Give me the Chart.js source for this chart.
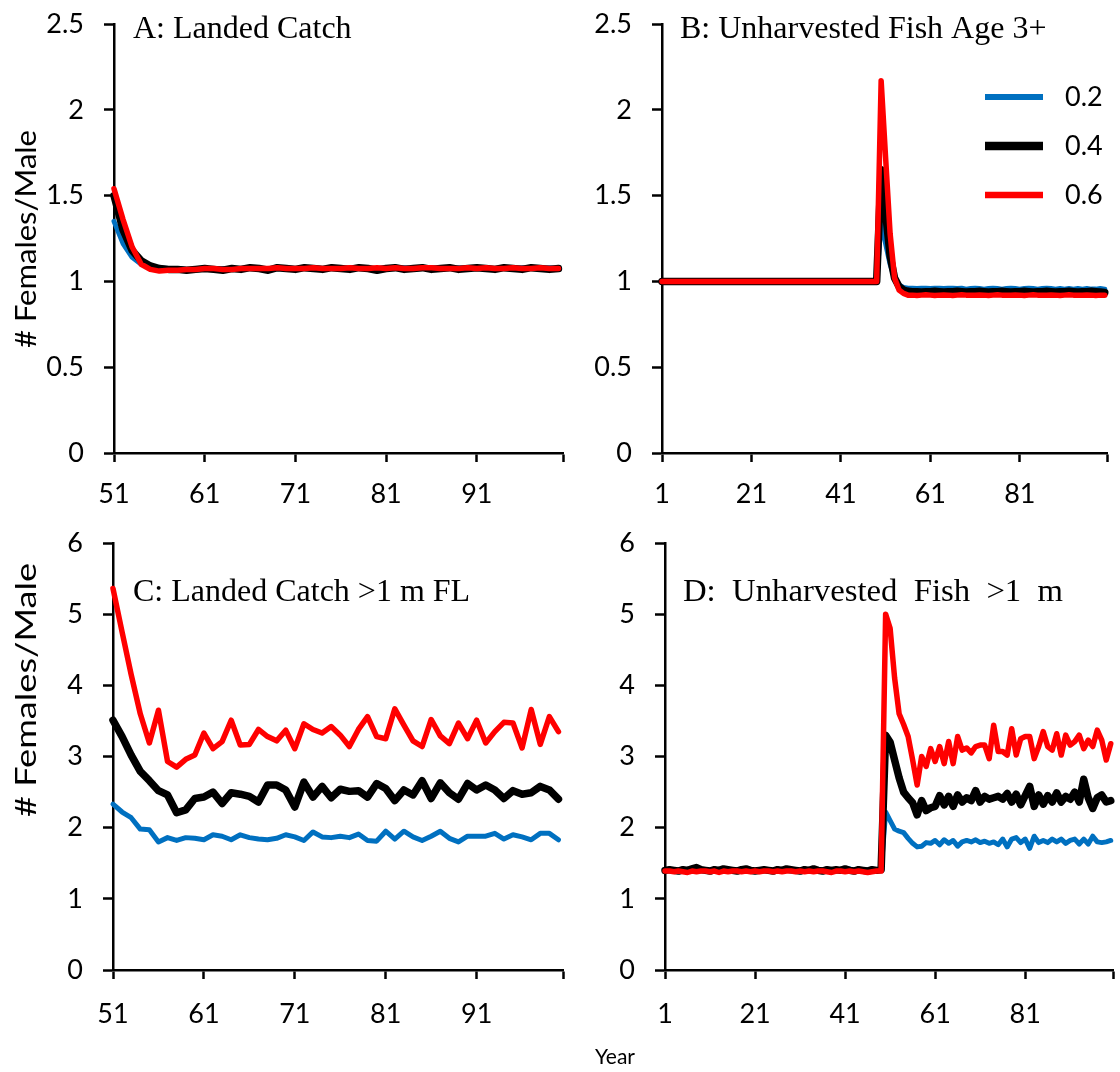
<!DOCTYPE html>
<html>
<head>
<meta charset="utf-8">
<script src="https://cdn.jsdelivr.net/npm/chart.js@4.4.1/dist/chart.umd.min.js"></script>
<style>
  html, body { margin: 0; padding: 0; background: #fff; }
  #wrap { position: relative; width: 1120px; height: 1072px; overflow: hidden; }
  canvas { position: absolute; }
  #yearLabel { position: absolute; left: 565px; top: 1043px; width: 100px; text-align: center;
               font: 21px Lato, sans-serif; line-height: 26px; color: #000; }
</style>
</head>
<body>
<div id="wrap">
  <canvas id="chartA" width="580" height="520" style="left:0;top:0"></canvas>
  <canvas id="chartB" width="540" height="520" style="left:580px;top:0"></canvas>
  <canvas id="chartC" width="580" height="552" style="left:0;top:520px"></canvas>
  <canvas id="chartD" width="540" height="552" style="left:580px;top:520px"></canvas>
  <div id="yearLabel">Year</div>
</div>
<script>
// series: harvest rate scenarios
const seriesLabels = ['0.2', '0.4', '0.6'];
const seriesColors = ['#0070C0', '#000000', '#FF0000'];

const xTicksLanded = [51, 61, 71, 81, 91];
const xTicksUnharvested = [1, 21, 41, 61, 81];
const yTicksSmall = [0, 0.5, 1, 1.5, 2, 2.5];
const yTicksBig = [0, 1, 2, 3, 4, 5, 6];

// A: landed catch, years 51-100
const landedBlue = [
  1.35, 1.22, 1.14, 1.10, 1.085, 1.08, 1.075, 1.075, 1.07, 1.07,
  1.075, 1.07, 1.075, 1.07, 1.075, 1.08, 1.075, 1.07, 1.075, 1.08,
  1.075, 1.075, 1.08, 1.075, 1.075, 1.08, 1.075, 1.08, 1.075, 1.075,
  1.08, 1.075, 1.08, 1.075, 1.075, 1.08, 1.075, 1.075, 1.08, 1.075,
  1.08, 1.075, 1.075, 1.08, 1.075, 1.08, 1.075, 1.075, 1.08, 1.075
];
const landedBlack = [
  1.50, 1.30, 1.18, 1.12, 1.09, 1.075, 1.07, 1.07, 1.065, 1.07,
  1.075, 1.07, 1.065, 1.075, 1.07, 1.08, 1.075, 1.065, 1.08, 1.075,
  1.07, 1.08, 1.075, 1.07, 1.08, 1.075, 1.07, 1.08, 1.075, 1.065,
  1.075, 1.08, 1.07, 1.075, 1.08, 1.07, 1.075, 1.08, 1.07, 1.075,
  1.08, 1.075, 1.07, 1.08, 1.075, 1.07, 1.08, 1.075, 1.07, 1.075
];
const landedRed = [
  1.54, 1.36, 1.20, 1.10, 1.07, 1.06, 1.065, 1.065, 1.07, 1.07,
  1.075, 1.075, 1.07, 1.07, 1.075, 1.075, 1.075, 1.075, 1.08, 1.075,
  1.075, 1.075, 1.08, 1.075, 1.075, 1.075, 1.08, 1.075, 1.075, 1.08,
  1.075, 1.08, 1.075, 1.075, 1.08, 1.08, 1.075, 1.075, 1.075, 1.08,
  1.075, 1.08, 1.075, 1.075, 1.08, 1.075, 1.075, 1.08, 1.075, 1.075
];

// B: unharvested fish age 3+, years 1-100
const unharvBlue = [
  1, 1, 1, 1, 1, 1, 1, 1, 1, 1,
  1, 1, 1, 1, 1, 1, 1, 1, 1, 1,
  1, 1, 1, 1, 1, 1, 1, 1, 1, 1,
  1, 1, 1, 1, 1, 1, 1, 1, 1, 1,
  1, 1, 1, 1, 1, 1, 1, 1, 1, 1.35,
  1.22, 1.10, 1.02, 0.98, 0.965, 0.96, 0.96, 0.958, 0.96, 0.96,
  0.958, 0.96, 0.96, 0.958, 0.96, 0.96, 0.958, 0.96, 0.955, 0.958,
  0.96, 0.958, 0.955, 0.958, 0.96, 0.958, 0.955, 0.958, 0.96, 0.958,
  0.955, 0.958, 0.96, 0.958, 0.955, 0.958, 0.96, 0.958, 0.955, 0.958,
  0.955, 0.958, 0.955, 0.958, 0.955, 0.958, 0.955, 0.955, 0.958, 0.955
];
const unharvBlack = [
  1, 1, 1, 1, 1, 1, 1, 1, 1, 1,
  1, 1, 1, 1, 1, 1, 1, 1, 1, 1,
  1, 1, 1, 1, 1, 1, 1, 1, 1, 1,
  1, 1, 1, 1, 1, 1, 1, 1, 1, 1,
  1, 1, 1, 1, 1, 1, 1, 1, 1, 1.65,
  1.40, 1.15, 1.02, 0.97, 0.95, 0.942, 0.94, 0.94, 0.938, 0.94,
  0.94, 0.942, 0.94, 0.938, 0.94, 0.94, 0.942, 0.94, 0.938, 0.94,
  0.94, 0.942, 0.94, 0.938, 0.94, 0.94, 0.942, 0.94, 0.938, 0.94,
  0.94, 0.942, 0.94, 0.938, 0.94, 0.94, 0.942, 0.94, 0.938, 0.94,
  0.94, 0.942, 0.94, 0.938, 0.94, 0.94, 0.942, 0.94, 0.938, 0.935
];
const unharvRed = [
  1, 1, 1, 1, 1, 1, 1, 1, 1, 1,
  1, 1, 1, 1, 1, 1, 1, 1, 1, 1,
  1, 1, 1, 1, 1, 1, 1, 1, 1, 1,
  1, 1, 1, 1, 1, 1, 1, 1, 1, 1,
  1, 1, 1, 1, 1, 1, 1, 1, 1, 2.17,
  1.72, 1.28, 1.02, 0.95, 0.93, 0.92, 0.92, 0.918, 0.92, 0.922,
  0.92, 0.918, 0.92, 0.921, 0.92, 0.918, 0.92, 0.922, 0.92, 0.919,
  0.92, 0.921, 0.92, 0.918, 0.92, 0.922, 0.92, 0.919, 0.92, 0.921,
  0.92, 0.918, 0.92, 0.922, 0.92, 0.919, 0.92, 0.921, 0.92, 0.918,
  0.92, 0.922, 0.92, 0.919, 0.92, 0.921, 0.92, 0.918, 0.92, 0.92
];

// C: landed catch >1 m FL, years 51-100
const bigLandedBlue = [
  2.33, 2.22, 2.14, 1.98, 1.97, 1.80, 1.86, 1.82, 1.86, 1.85,
  1.83, 1.90, 1.88, 1.83, 1.90, 1.86, 1.84, 1.83, 1.85, 1.90,
  1.87, 1.82, 1.94, 1.87, 1.86, 1.88, 1.86, 1.91, 1.82, 1.81,
  1.95, 1.84, 1.95, 1.87, 1.82, 1.88, 1.95, 1.85, 1.80, 1.88,
  1.88, 1.88, 1.92, 1.84, 1.90, 1.87, 1.83, 1.92, 1.92, 1.83
];
const bigLandedBlack = [
  3.51, 3.28, 3.02, 2.79, 2.66, 2.52, 2.46, 2.21, 2.25, 2.41,
  2.43, 2.50, 2.34, 2.49, 2.47, 2.44, 2.36, 2.60, 2.60, 2.53,
  2.29, 2.64, 2.43, 2.58, 2.42, 2.54, 2.51, 2.52, 2.43, 2.62,
  2.55, 2.38, 2.53, 2.46, 2.66, 2.41, 2.63, 2.49, 2.40, 2.62,
  2.53, 2.60, 2.53, 2.41, 2.52, 2.47, 2.49, 2.58, 2.53, 2.40
];
const bigLandedRed = [
  5.36, 4.75, 4.15, 3.60, 3.19, 3.65, 2.93, 2.85, 2.96, 3.02,
  3.33, 3.11, 3.21, 3.51, 3.16, 3.17, 3.38, 3.28, 3.22, 3.37,
  3.11, 3.46, 3.38, 3.33, 3.42, 3.30, 3.14, 3.38, 3.56, 3.28,
  3.25, 3.67, 3.44, 3.22, 3.14, 3.52, 3.29, 3.18, 3.47, 3.25,
  3.51, 3.19, 3.35, 3.48, 3.47, 3.12, 3.66, 3.17, 3.56, 3.35
];

// D: unharvested fish >1 m, years 1-100
const bigUnharvBlue = [
  1.40, 1.40, 1.39, 1.40, 1.40, 1.39, 1.40, 1.40, 1.41, 1.40,
  1.39, 1.40, 1.40, 1.40, 1.39, 1.40, 1.41, 1.40, 1.40, 1.39,
  1.40, 1.40, 1.40, 1.39, 1.40, 1.40, 1.41, 1.40, 1.39, 1.40,
  1.40, 1.40, 1.39, 1.40, 1.40, 1.41, 1.40, 1.40, 1.39, 1.40,
  1.40, 1.42, 1.40, 1.39, 1.40, 1.40, 1.39, 1.40, 1.40, 2.22,
  2.10, 1.98, 1.95, 1.93, 1.85, 1.78, 1.73, 1.74, 1.79, 1.78,
  1.82, 1.76, 1.83, 1.78, 1.82, 1.74, 1.80, 1.82, 1.80, 1.83,
  1.79, 1.81, 1.78, 1.80, 1.76, 1.84, 1.73, 1.84, 1.86, 1.79,
  1.84, 1.71, 1.88, 1.79, 1.82, 1.79, 1.84, 1.80, 1.84, 1.78,
  1.82, 1.84, 1.77, 1.84, 1.77, 1.88, 1.80, 1.79, 1.80, 1.82
];
const bigUnharvBlack = [
  1.40, 1.41, 1.40, 1.39, 1.41, 1.40, 1.42, 1.44, 1.41, 1.40,
  1.39, 1.41, 1.40, 1.42, 1.41, 1.40, 1.39, 1.41, 1.42, 1.40,
  1.39, 1.40, 1.41, 1.40, 1.39, 1.41, 1.40, 1.42, 1.41, 1.40,
  1.39, 1.41, 1.40, 1.42, 1.40, 1.39, 1.41, 1.40, 1.41, 1.40,
  1.42, 1.40, 1.39, 1.41, 1.40, 1.39, 1.41, 1.40, 1.41, 3.30,
  3.20, 2.95, 2.70, 2.50, 2.42, 2.35, 2.18, 2.38, 2.24, 2.28,
  2.30, 2.45, 2.32, 2.44, 2.30, 2.46, 2.36, 2.42, 2.38, 2.52,
  2.36, 2.44, 2.40, 2.42, 2.44, 2.40, 2.48, 2.36, 2.47, 2.32,
  2.45, 2.58, 2.30, 2.46, 2.33, 2.45, 2.36, 2.49, 2.36, 2.44,
  2.40, 2.50, 2.36, 2.68, 2.42, 2.27, 2.42, 2.46, 2.36, 2.38
];
const bigUnharvRed = [
  1.39, 1.39, 1.38, 1.39, 1.38, 1.37, 1.39, 1.38, 1.39, 1.39,
  1.38, 1.39, 1.37, 1.39, 1.38, 1.39, 1.39, 1.38, 1.39, 1.38,
  1.39, 1.38, 1.39, 1.39, 1.38, 1.39, 1.38, 1.39, 1.39, 1.38,
  1.39, 1.38, 1.39, 1.38, 1.39, 1.39, 1.38, 1.37, 1.39, 1.39,
  1.38, 1.39, 1.38, 1.39, 1.38, 1.37, 1.38, 1.39, 1.39, 5.00,
  4.80, 4.10, 3.60, 3.45, 3.28, 2.95, 2.60, 3.00, 2.86, 3.11,
  2.93, 3.14, 2.90, 3.21, 2.90, 3.28, 3.09, 3.12, 3.05, 3.14,
  3.16, 3.16, 2.97, 3.44, 3.07, 3.07, 3.02, 3.39, 3.02, 3.25,
  3.28, 3.28, 2.97, 3.14, 3.35, 3.14, 3.09, 3.32, 3.02, 3.30,
  3.16, 3.21, 3.30, 3.11, 3.23, 3.14, 3.37, 3.23, 2.95, 3.18
];

const lineWidths = [5, 7.5, 5.5];
const drawOrder = [2, 1, 0];   // red on top, blue underneath
const tickFont = { family: 'Lato', size: 27 };
const titleFont = "32px 'Liberation Serif'";
const axisTitleFont = '28px Lato';

// panel captions, rotated axis title and legend, drawn after the chart
function textPlugin(texts, legend) {
  return {
    id: 'panelText',
    afterDraw(chart) {
      const ctx = chart.ctx;
      texts.forEach(t => {
        ctx.save();
        ctx.font = t.font;
        ctx.fillStyle = '#000';
        ctx.textBaseline = t.baseline || 'alphabetic';
        ctx.textAlign = t.align || 'left';
        ctx.translate(t.x, t.y);
        if (t.rotate) ctx.rotate(t.rotate);
        if (t.length) {
          const w = ctx.measureText(t.text).width;
          ctx.scale(t.length / w, 1);
        }
        ctx.fillText(t.text, 0, 0);
        ctx.restore();
      });
      if (!legend) return;
      chart.data.datasets.forEach((ds, i) => {
        const y = legend.y + i * legend.gap;
        ctx.save();
        ctx.strokeStyle = ds.borderColor;
        ctx.lineWidth = ds.borderWidth + 1;
        ctx.beginPath();
        ctx.moveTo(legend.x, y);
        ctx.lineTo(legend.x + legend.len, y);
        ctx.stroke();
        ctx.fillStyle = '#000';
        ctx.font = tickFont.size + 'px ' + tickFont.family;
        ctx.textBaseline = 'middle';
        ctx.fillText(ds.label, legend.textX, y);
        ctx.restore();
      });
    }
  };
}

function makePanel(id, cfg) {
  const ctx = document.getElementById(id).getContext('2d');
  const datasets = cfg.series.map((vals, k) => ({
    label: seriesLabels[k],
    data: vals.map((v, i) => ({ x: cfg.firstYear + i, y: v })),
    borderColor: seriesColors[k],
    borderWidth: lineWidths[k],
    order: drawOrder[k],
    pointRadius: 0,
    borderCapStyle: 'round',
    borderJoinStyle: 'round',
    tension: 0,
    clip: 10
  }));
  return new Chart(ctx, {
    type: 'line',
    data: { datasets: datasets },
    options: {
      responsive: false,
      animation: false,
      devicePixelRatio: 1,
      layout: { padding: cfg.padding },
      plugins: {
        legend: { display: false },
        tooltip: { enabled: false }
      },
      scales: {
        x: {
          type: 'linear',
          min: cfg.xTicks[0],
          max: cfg.xMax,
          afterBuildTicks: s => { s.ticks = cfg.xTicks.concat([cfg.xMax]).map(v => ({ value: v })); },
          // fixed axis size; layout padding alone sets the plot box
          afterFit: s => { s.height = cfg.xAxisHeight; s.paddingLeft = 0; s.paddingRight = 0; },
          ticks: {
            autoSkip: false, maxRotation: 0, padding: cfg.xLabelGap, color: '#000', font: tickFont,
            callback: v => cfg.xTicks.includes(v) ? String(v) : ''
          },
          grid: { drawOnChartArea: false, drawTicks: true, tickLength: 9, tickWidth: 2.5, tickColor: '#000' },
          border: { display: true, color: '#000', width: 2.5 }
        },
        y: {
          type: 'linear',
          min: 0,
          max: cfg.yTicks[cfg.yTicks.length - 1],
          afterBuildTicks: s => { s.ticks = cfg.yTicks.map(v => ({ value: v })); },
          afterFit: s => { s.width = cfg.yAxisWidth; s.paddingTop = 0; s.paddingBottom = 0; },
          ticks: { padding: 20, color: '#000', font: tickFont, callback: v => String(v) },
          grid: { drawOnChartArea: false, drawTicks: true, tickLength: 10, tickWidth: 2.5, tickColor: '#000' },
          border: { display: true, color: '#000', width: 2.5 }
        }
      }
    },
    plugins: [textPlugin(cfg.texts, cfg.legend)]
  });
}

makePanel('chartA', {
  series: [landedBlue, landedBlack, landedRed],
  firstYear: 51, xTicks: xTicksLanded, xMax: 100.5, yTicks: yTicksSmall,
  padding: { top: 24, right: 17, bottom: 0, left: 0 },
  yAxisWidth: 114, xAxisHeight: 67, xLabelGap: 16,
  texts: [
    { text: 'A: Landed Catch', x: 133, y: 38, font: titleFont },
    { text: '# Females/Male', x: 27, y: 239, font: axisTitleFont, align: 'center', baseline: 'middle', rotate: -Math.PI / 2, length: 218 }
  ]
});

makePanel('chartB', {
  series: [unharvBlue, unharvBlack, unharvRed],
  firstYear: 1, xTicks: xTicksUnharvested, xMax: 100.5, yTicks: yTicksSmall,
  padding: { top: 24, right: 13, bottom: 0, left: 0 },
  yAxisWidth: 82, xAxisHeight: 67, xLabelGap: 16,
  texts: [
    { text: 'B: Unharvested Fish Age 3+', x: 100, y: 38, font: titleFont }
  ],
  legend: { x: 405, len: 58, textX: 485, y: 97, gap: 49 }
});

makePanel('chartC', {
  series: [bigLandedBlue, bigLandedBlack, bigLandedRed],
  firstYear: 51, xTicks: xTicksLanded, xMax: 100.5, yTicks: yTicksBig,
  padding: { top: 23, right: 17, bottom: 0, left: 0 },
  yAxisWidth: 113, xAxisHeight: 102, xLabelGap: 19,
  texts: [
    { text: 'C: Landed Catch >1 m FL', x: 133, y: 81, font: titleFont },
    { text: '# Females/Male', x: 27, y: 170, font: axisTitleFont, align: 'center', baseline: 'middle', rotate: -Math.PI / 2, length: 254 }
  ]
});

makePanel('chartD', {
  series: [bigUnharvBlue, bigUnharvBlack, bigUnharvRed],
  firstYear: 1, xTicks: xTicksUnharvested, xMax: 100.5, yTicks: yTicksBig,
  padding: { top: 23, right: 7, bottom: 0, left: 0 },
  yAxisWidth: 85, xAxisHeight: 102, xLabelGap: 19,
  texts: [
    { text: 'D:  Unharvested  Fish  >1  m', x: 103, y: 81, font: titleFont, length: 380 }
  ]
});
</script>
</body>
</html>
